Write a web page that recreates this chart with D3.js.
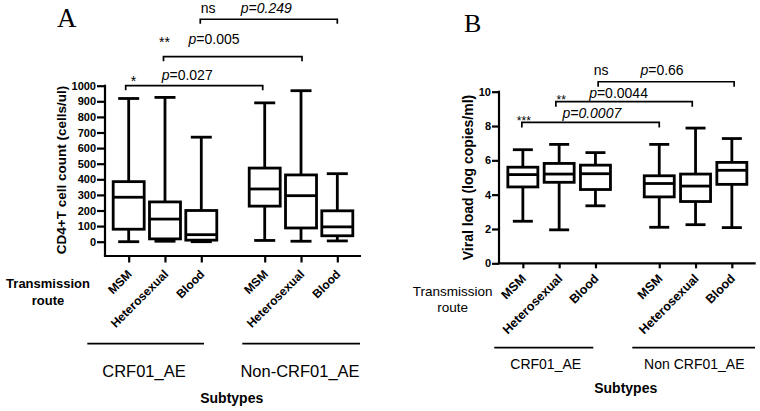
<!DOCTYPE html>
<html>
<head>
<meta charset="utf-8">
<script src="https://cdn.jsdelivr.net/npm/d3@7"></script>
<style>
  html, body { margin: 0; padding: 0; background: #fff; }
  svg { display: block; font-family: "Liberation Sans", Arial, sans-serif; }
</style>
</head>
<body>
<svg id="chart" width="760" height="411"></svg>
<script>
// ---------------- DATA ----------------
const routes = ["MSM", "Heterosexual", "Blood"];
const subtypesA = ["CRF01_AE", "Non-CRF01_AE"];
const subtypesB = ["CRF01_AE", "Non CRF01_AE"];

// [min, Q1, median, Q3, max] per subtype x route
const cd4Stats = [
  [0, 80, 285, 385, 918],     // CRF01_AE MSM
  [3, 18, 145, 255, 925],     // CRF01_AE Heterosexual
  [0, 10, 45, 200, 670],      // CRF01_AE Blood
  [8, 228, 338, 472, 890],    // Non-CRF01_AE MSM
  [3, 88, 295, 428, 968],     // Non-CRF01_AE Heterosexual
  [5, 38, 95, 198, 436]       // Non-CRF01_AE Blood
];
const cd4Ticks = [0, 100, 200, 300, 400, 500, 600, 700, 800, 900, 1000];

const vlStats = [
  [2.45, 4.45, 5.17, 5.6, 6.62],
  [1.95, 4.72, 5.2, 5.82, 6.93],
  [3.35, 4.3, 5.22, 5.72, 6.45],
  [2.1, 3.87, 4.65, 5.1, 6.93],
  [2.25, 3.6, 4.5, 5.2, 7.88],
  [2.08, 4.6, 5.42, 5.88, 7.27]
];
const vlTicks = [0, 2, 4, 6, 8, 10];

// comparisons between CRF01_AE and non-CRF01_AE for each route
const cd4Stars = ["*", "**", "ns"];
const cd4PValues = ["0.027", "0.005", "0.249"];
const cd4PItalic = [false, false, true];
const cd4BracketLevels = [1000, 1186, 1426];

const vlStars = ["***", "**", "ns"];
const vlPValues = ["0.0007", "0.0044", "0.66"];
const vlPItalic = [true, false, false];
const vlBracketLevels = [8.21, 9.42, 10.58];

// ---------------- DRAW ----------------
const svg = d3.select("#chart");
const SW = 2.8;

function panel(cfg) {
  const g = svg.append("g");
  const subtypes = cfg.subtypes;
  const keys = [];
  subtypes.forEach(s => routes.forEach(r => keys.push(s + "|" + r)));

  const outer = d3.scalePoint().domain(subtypes).range(cfg.xRange).padding(0.441);
  const inner = d3.scalePoint().domain(routes).range([-36.3, 36.3]);
  const xPos = k => { const [s, r] = k.split("|"); return outer(s) + inner(r); };
  const x = d3.scaleOrdinal().domain(keys).range(keys.map(xPos));
  const y = d3.scaleLinear().domain(cfg.yDomain).range(cfg.yRange);

  // panel letter
  g.append("text").attr("x", cfg.letterPos[0]).attr("y", cfg.letterPos[1])
    .attr("font-family", "'Liberation Serif', 'Times New Roman', serif")
    .attr("font-size", cfg.letterSize).text(cfg.letter);

  // y axis
  const yAx = g.append("g").attr("transform", `translate(${cfg.xRange[0]},0)`)
    .call(d3.axisLeft(y).tickValues(cfg.ticks).tickFormat(d3.format("d"))
      .tickSize(cfg.yTickSize).tickSizeOuter(0).tickPadding(1));
  yAx.select(".domain").remove();
  yAx.selectAll(".tick line").attr("stroke", "#000").attr("stroke-width", 2.2);
  yAx.selectAll(".tick text").attr("font-size", 11).attr("font-weight", "bold")
    .attr("font-family", "'Liberation Sans', Arial, sans-serif").attr("fill", "#000");
  g.append("line").attr("x1", cfg.xRange[0]).attr("x2", cfg.xRange[0])
    .attr("y1", y(cfg.yDomain[1]) - 1).attr("y2", cfg.xAxisY)
    .attr("stroke", "#000").attr("stroke-width", 2.2);

  // x axis
  const xAx = g.append("g").attr("transform", `translate(0,${cfg.xAxisY})`)
    .call(d3.axisBottom(x).tickSize(cfg.xTickSize).tickSizeOuter(0).tickFormat(() => ""));
  xAx.select(".domain").remove();
  xAx.selectAll(".tick line").attr("stroke", "#000").attr("stroke-width", 2.2);
  g.append("line").attr("x1", cfg.xRange[0] - 1.1).attr("x2", cfg.xRange[1])
    .attr("y1", cfg.xAxisY).attr("y2", cfg.xAxisY)
    .attr("stroke", "#000").attr("stroke-width", 2.2);

  // rotated route labels
  g.selectAll(".xlab").data(keys).join("text")
    .attr("class", "xlab")
    .attr("transform", k => `translate(${x(k) + cfg.xLabOff[0]},${cfg.xAxisY + cfg.xLabOff[1]}) rotate(-45)`)
    .attr("text-anchor", "end").attr("font-size", cfg.xLabSize).attr("font-weight", "bold")
    .text(k => k.split("|")[1]);

  // boxes
  const boxes = g.selectAll(".box").data(keys).join("g").attr("class", "box");
  const st = (k) => cfg.stats[keys.indexOf(k)];
  const bw = cfg.boxW, cw = cfg.capW;
  boxes.append("line")
    .attr("x1", k => x(k)).attr("x2", k => x(k))
    .attr("y1", k => y(st(k)[0])).attr("y2", k => y(st(k)[4]))
    .attr("stroke", "#000").attr("stroke-width", SW);
  boxes.append("line")
    .attr("x1", k => x(k) - cw / 2).attr("x2", k => x(k) + cw / 2)
    .attr("y1", k => y(st(k)[4])).attr("y2", k => y(st(k)[4]))
    .attr("stroke", "#000").attr("stroke-width", SW);
  boxes.append("line")
    .attr("x1", k => x(k) - cw / 2).attr("x2", k => x(k) + cw / 2)
    .attr("y1", k => y(st(k)[0])).attr("y2", k => y(st(k)[0]))
    .attr("stroke", "#000").attr("stroke-width", SW);
  boxes.append("rect")
    .attr("x", k => x(k) - bw / 2).attr("width", bw)
    .attr("y", k => y(st(k)[3])).attr("height", k => y(st(k)[1]) - y(st(k)[3]))
    .attr("fill", "#fff").attr("stroke", "#000").attr("stroke-width", SW);
  boxes.append("line")
    .attr("x1", k => x(k) - bw / 2).attr("x2", k => x(k) + bw / 2)
    .attr("y1", k => y(st(k)[2])).attr("y2", k => y(st(k)[2]))
    .attr("stroke", "#000").attr("stroke-width", SW);

  // brackets
  routes.forEach((r, i) => {
    const x1 = x(subtypes[0] + "|" + r) + cfg.bracketShift[i][0];
    const x2 = x(subtypes[1] + "|" + r) + cfg.bracketShift[i][1];
    const yb = y(cfg.levels[i]);
    g.append("path")
      .attr("d", `M${x1},${yb + cfg.leg}V${yb}H${x2}V${yb + cfg.leg}`)
      .attr("fill", "none").attr("stroke", "#000").attr("stroke-width", 1.7);
    const lo = cfg.labelOff[i];
    g.append("text").attr("x", x1 + lo.star[0]).attr("y", yb + lo.star[1])
      .attr("font-size", lo.starSize).text(cfg.stars[i]);
    const t = g.append("text").attr("x", x1 + lo.p[0]).attr("y", yb + lo.p[1])
      .attr("font-size", 14);
    t.append("tspan").attr("font-style", "italic").text("p");
    t.append("tspan").attr("font-style", cfg.pItalic[i] ? "italic" : "normal").text("=" + cfg.pValues[i]);
  });

  // y label
  g.append("text")
    .attr("transform", `translate(${cfg.yLabPos[0]},${cfg.yLabPos[1]}) rotate(-90)`)
    .attr("text-anchor", "middle").attr("dominant-baseline", "central")
    .attr("font-size", cfg.yLabSize).attr("font-weight", "bold").text(cfg.yLabel);

  // Transmission route
  const tr = g.append("text").attr("text-anchor", "middle")
    .attr("font-size", cfg.trSize).attr("font-weight", cfg.trWeight);
  tr.append("tspan").attr("x", cfg.trPos[0]).attr("y", cfg.trPos[1]).text("Transmission");
  tr.append("tspan").attr("x", cfg.trPos[0]).attr("y", cfg.trPos[1] + cfg.trLine).text("route");

  // group lines + labels
  subtypes.forEach((s, i) => {
    g.append("line").attr("x1", cfg.groupLines[i][0]).attr("x2", cfg.groupLines[i][1])
      .attr("y1", cfg.groupLineY).attr("y2", cfg.groupLineY)
      .attr("stroke", "#000").attr("stroke-width", 1.7);
    g.append("text").attr("x", cfg.groupLabX[i]).attr("y", cfg.groupLabY)
      .attr("text-anchor", "middle").attr("font-size", cfg.groupLabSize).text(s);
  });

  g.append("text").attr("x", cfg.subPos[0]).attr("y", cfg.subPos[1])
    .attr("text-anchor", "middle").attr("font-size", 14).attr("font-weight", "bold")
    .text("Subtypes");
}

panel({
  letter: "A", letterPos: [57, 27.3], letterSize: 27,
  subtypes: subtypesA, stats: cd4Stats, ticks: cd4Ticks,
  xRange: [105, 361], yDomain: [0, 1000], yRange: [241.7, 85.7], xAxisY: 256,
  yTickSize: 8, xTickSize: 6.5,
  xLabOff: [4, 19], xLabSize: 12,
  boxW: 31, capW: 21,
  levels: cd4BracketLevels, stars: cd4Stars, pValues: cd4PValues, pItalic: cd4PItalic,
  bracketShift: [[-3, -2], [-1.5, 1], [-1, 0]], leg: 4.5,
  labelOff: [
    { star: [5, 0], starSize: 14, p: [36, -6] },
    { star: [-4.5, -10], starSize: 14, p: [25, -12.7] },
    { star: [0.5, -6.6], starSize: 14, p: [40.5, -6.6] }
  ],
  yLabel: "CD4+T cell count (cells/ul)", yLabPos: [61, 170], yLabSize: 13.5,
  trPos: [48, 288], trLine: 17, trSize: 13, trWeight: "bold",
  groupLines: [[87.3, 204], [242.3, 360]], groupLineY: 343.7,
  groupLabX: [144, 300], groupLabY: 377, groupLabSize: 16.5,
  subPos: [231.7, 403]
});

panel({
  letter: "B", letterPos: [464, 31.7], letterSize: 26,
  subtypes: subtypesB, stats: vlStats, ticks: vlTicks,
  xRange: [499, 755.7], yDomain: [0, 10], yRange: [263.3, 91.7], xAxisY: 263.3,
  yTickSize: 7, xTickSize: 5,
  xLabOff: [4, 16], xLabSize: 12.5,
  boxW: 30, capW: 20,
  levels: vlBracketLevels, stars: vlStars, pValues: vlPValues, pItalic: vlPItalic,
  bracketShift: [[-1, 0], [-3.3, -3.3], [2.7, 2.3]], leg: 5,
  labelOff: [
    { star: [-5, 3], starSize: 12, p: [40.6, -4] },
    { star: [0.7, 2], starSize: 12, p: [33.3, -3.4] },
    { star: [-4.4, -6.7], starSize: 14, p: [42.3, -6.7] }
  ],
  yLabel: "Viral load (log copies/ml)", yLabPos: [468, 177.5], yLabSize: 14,
  trPos: [452.7, 295.5], trLine: 16, trSize: 13.5, trWeight: "normal",
  groupLines: [[494.3, 593.3], [632.3, 755]], groupLineY: 347.7,
  groupLabX: [545.7, 694.3], groupLabY: 369.3, groupLabSize: 14,
  subPos: [625.7, 393.3]
});
</script>
</body>
</html>
